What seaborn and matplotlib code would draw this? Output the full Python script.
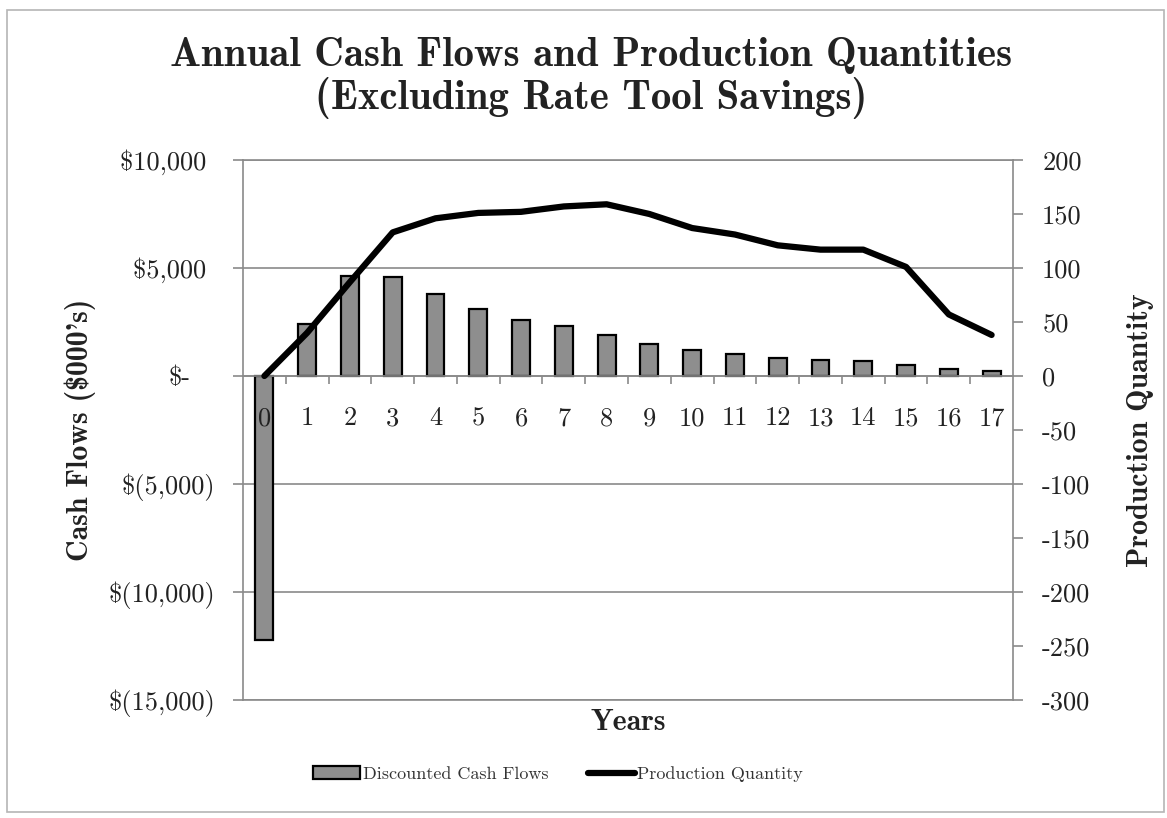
import numpy as np
import matplotlib
matplotlib.use("Agg")
import matplotlib.pyplot as plt
import matplotlib.transforms as mtransforms
from matplotlib.patches import Rectangle
import seaborn as sns

# Data
years = list(range(18))
cash_flows = [-12200, 2400, 4650, 4600, 3780, 3100, 2580, 2320, 1880, 1480,
              1190, 1020, 830, 730, 680, 520, 320, 220]
production = [0, 40, 87, 133, 146, 151, 152, 157, 159, 150,
              137, 131, 121, 117, 117, 101, 57, 38]

left_ticks = [-15000, -10000, -5000, 0, 5000, 10000]
left_labels = [r"\$(15,000)", r"\$(10,000)", r"\$(5,000)", r"\$-", r"\$5,000 ", r"\$10,000 "]
right_ticks = [-300, -250, -200, -150, -100, -50, 0, 50, 100, 150, 200]
right_labels = ["-300", "-250", "-200", "-150", "-100", "-50", "0", "50", "100", "150", "200"]

sns.set_style("white")
plt.rcParams["axes.unicode_minus"] = False
plt.rcParams["font.family"] = ["cmr10", "DejaVu Serif"]

W, H = 1167, 818
fig = plt.figure(figsize=(W / 100, H / 100), dpi=100)
ax = fig.add_axes([243 / W, 1 - 700 / H, (1013 - 243) / W, 540 / H])
ax2 = ax.twinx()

grid_c = "#8a8a8a"
text_c = "#222222"

# Horizontal gridlines behind the bars
for t in left_ticks:
    ax.axhline(t, color=grid_c, linewidth=1.2, zorder=0.5)

sns.barplot(x=years, y=cash_flows, color="#8e8e8e", saturation=1, width=0.42,
            edgecolor="black", linewidth=1.6, ax=ax, zorder=1)
sns.lineplot(x=years, y=production, color="black", linewidth=4.5, ax=ax2,
             legend=False, solid_capstyle="round")

ax.set_xlim(-0.5, 17.5)
ax.set_ylim(-15000, 10000)
ax2.set_ylim(-300, 200)

# Left axis
ax.set_yticks(left_ticks)
ax.set_yticklabels(left_labels, fontsize=19)
ax.grid(False)
ax.set_axisbelow(False)
ax.tick_params(axis="y", which="major", left=True, length=7, width=1.2,
               color=grid_c, pad=13, labelcolor=text_c)
# accounting-style zero label sits a little further left
zero_lbl = ax.get_yticklabels()[left_ticks.index(0)]
zero_lbl.set_transform(zero_lbl.get_transform()
                       + mtransforms.ScaledTranslation(-0.25, 0, fig.dpi_scale_trans))

# Category axis sits on the zero line
ax.spines["bottom"].set_position(("data", 0))
ax.spines["bottom"].set_color(grid_c)
ax.spines["bottom"].set_linewidth(1.2)
ax.set_xticks(years)
ax.set_xticklabels([str(y) for y in years], fontsize=19)
ax.set_xticks(np.arange(0.5, 17, 1), minor=True)
ax.tick_params(axis="x", which="major", bottom=True, length=0, pad=22, labelcolor=text_c)
ax.tick_params(axis="x", which="minor", bottom=True, length=6, width=1.2,
               color=grid_c, direction="out")
ax.spines["left"].set_color(grid_c)
ax.spines["left"].set_linewidth(1.2)
ax.spines["top"].set_visible(False)
ax.spines["right"].set_visible(False)
ax.set_xlabel("")
ax.set_ylabel("")

# Right axis
ax2.set_yticks(right_ticks)
ax2.set_yticklabels(right_labels, fontsize=19)
ax2.tick_params(axis="y", which="major", right=True, length=7, width=1.2,
                color=grid_c, pad=14, labelcolor=text_c)
for side in ["top", "bottom", "right"]:
    ax2.spines[side].set_visible(True)
    ax2.spines[side].set_color(grid_c)
    ax2.spines[side].set_linewidth(1.2)
ax2.spines["left"].set_visible(False)
ax2.set_ylabel("")

# Labels
bold = ["cmb10", "DejaVu Serif"]
fig.text(591 / W, 1 - 78 / H,
         "Annual Cash Flows and Production Quantities\n(Excluding Rate Tool Savings)",
         ha="center", va="center", fontsize=29.5, family=bold, linespacing=1.08,
         color=text_c)
fig.text(80 / W, 1 - 430 / H, r"Cash Flows (\$000's)", rotation=90,
         ha="center", va="center", fontsize=21.5, family=bold, color=text_c)
fig.text(1140 / W, 1 - 430 / H, "Production Quantity", rotation=90,
         ha="center", va="center", fontsize=21.5, family=bold, color=text_c)
fig.text(628 / W, 1 - 722 / H, "Years", ha="center", va="center",
         fontsize=21.5, family=bold, color=text_c)

# Legend
leg = fig.legend([ax.containers[0], ax2.lines[0]],
                 ["Discounted Cash Flows", "Production Quantity"],
                 loc="center", bbox_to_anchor=(558 / W, 1 - 774 / H), ncol=2,
                 frameon=False, fontsize=13, handlelength=2.6, handletextpad=0.15,
                 columnspacing=2.2)
for t in leg.get_texts():
    t.set_color("#333333")

# Outer frame
fig.patches.append(Rectangle((7 / W, 1 - 812 / H), (1164 - 7) / W, (812 - 10) / H,
                             transform=fig.transFigure, fill=False,
                             edgecolor="#b5b5b5", linewidth=1.2))

fig.savefig("out.png", dpi=100)
